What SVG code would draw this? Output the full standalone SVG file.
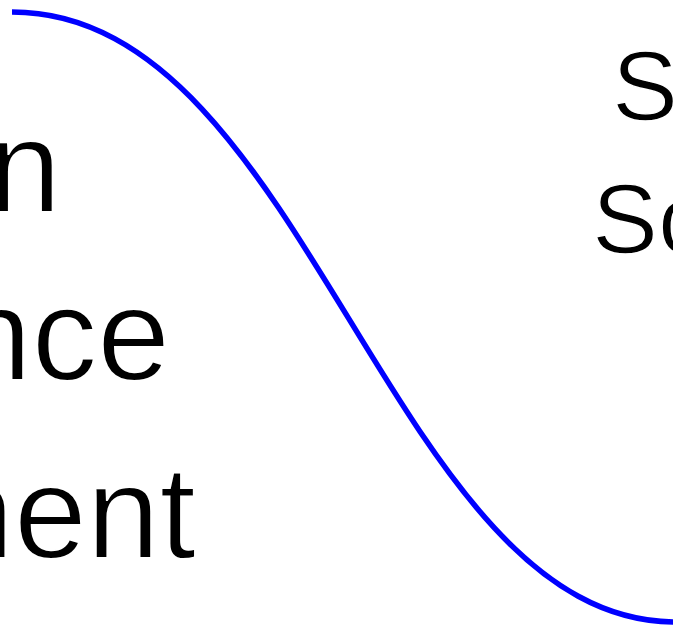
<svg xmlns="http://www.w3.org/2000/svg" width="673" height="627" viewBox="0 0 673 627">
<style>
.lbl{font-family:"Liberation Sans",Arial,sans-serif;fill:#000;stroke:#fff;paint-order:normal}
.big{font-size:131px;stroke-width:1.8px}
.mid{font-size:99px;stroke-width:1.4px}
.edge{fill:none;stroke:#0000ff;stroke-width:5.5}
</style>
<rect width="673" height="627" fill="#fff"/>
<g id="connectors">
<path class="edge" d="M12,12 C308,12 390,622 676,622"/>
</g>
<g id="node-left-1"><text class="lbl big" x="61" y="212" text-anchor="end">n</text></g>
<g id="node-left-2"><text class="lbl big" x="170" y="380" text-anchor="end">nce</text></g>
<g id="node-left-3"><text class="lbl big" x="196" y="558" text-anchor="end">nent</text></g>
<g id="node-right-1"><text class="lbl mid" x="612" y="120">S</text></g>
<g id="node-right-2"><text class="lbl mid" x="592" y="253">Sc</text></g>
</svg>
